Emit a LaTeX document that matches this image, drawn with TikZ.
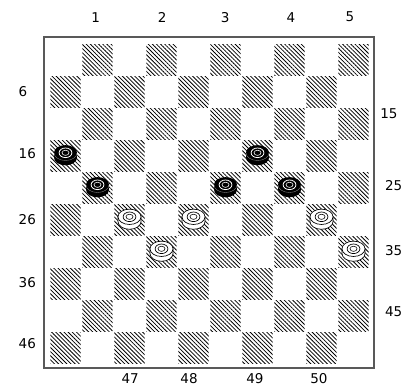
\documentclass[tikz,border=0pt]{standalone}
\usepackage{fontspec}
\setmainfont{DejaVu Sans}
\usetikzlibrary{patterns.meta}

\begin{document}
\begin{tikzpicture}[
    x=1cm, y=-1cm,
    darksq/.style={pattern={Lines[angle=-45,distance=2.6pt,line width=0.7pt]}},
    num/.style={font=\fontsize{12}{14}\selectfont, inner sep=0pt},
    frame/.style={draw=black!65, line width=1.3pt},
    blackpiece/.pic={
        \fill[black] (0,0.15) ellipse (0.36 and 0.24);
        \fill[black] (-0.36,0) rectangle (0.36,0.15);
        \fill[black] (0,0) ellipse (0.36 and 0.24);
        \draw[black!45, line width=0.3pt] (-0.36,0) arc[start angle=180, end angle=0, x radius=0.36, y radius=0.24];
        \draw[white, line width=0.7pt] (0,0) ellipse (0.2 and 0.15);
        \draw[white, line width=0.5pt] (0,0) ellipse (0.11 and 0.08);
    },
    whitepiece/.pic={
        \filldraw[fill=white, draw=black, line width=0.6pt] (-0.36,0) -- (-0.36,0.15)
            arc[start angle=180, end angle=0, x radius=0.36, y radius=0.24] -- (0.36,0) -- cycle;
        \filldraw[fill=white, draw=black, line width=0.6pt] (0,0) ellipse (0.36 and 0.24);
        \draw[black, line width=0.6pt] (0,0) ellipse (0.2 and 0.15);
        \draw[black, line width=0.5pt] (0,0) ellipse (0.11 and 0.08);
    }
]
    \useasboundingbox (-1.547,-1.375) rectangle (11.39,10.75);

    % board
    \draw[frame] (-0.17,-0.22) rectangle (10.14,10.13);
    \foreach \r in {1,...,10}
        \foreach \c in {1,...,5} {
            \pgfmathtruncatemacro{\col}{2*\c-1+mod(\r,2)}
            \fill[darksq] ({\col-1+0.03},{\r-1+0.03}) rectangle ({\col-0.03},{\r-0.03});
        }

    % numbers round the board
    \foreach \n/\x in {1/1.44, 2/3.52, 3/5.49, 4/7.54, 5/9.39}
        \node[num] (top\n) at (\x,-0.84) {\n};

    \foreach \n/\y in {6/1.5, 16/3.42, 26/5.48, 36/7.44, 46/9.36}
        \node[num, anchor=west] (left\n) at (-0.97,\y) {\n};

    \node[num, anchor=west] (right15) at (10.33,2.19) {15};
    \foreach \n/\y in {25/4.44, 35/6.47, 45/8.38}
        \node[num, anchor=west] (right\n) at (10.48,\y) {\n};

    \foreach \n/\x in {47/2.52, 48/4.36, 49/6.42, 50/8.42}
        \node[num] (bottom\n) at (\x,10.44) {\n};

    % black men
    \foreach \c/\r in {1/4, 7/4, 2/5, 6/5, 8/5}
        \pic at ({\c-0.5},{\r-0.6}) {blackpiece};

    % white men
    \foreach \c/\r in {3/6, 5/6, 9/6, 4/7, 10/7}
        \pic at ({\c-0.5},{\r-0.6}) {whitepiece};

\end{tikzpicture}
\end{document}
